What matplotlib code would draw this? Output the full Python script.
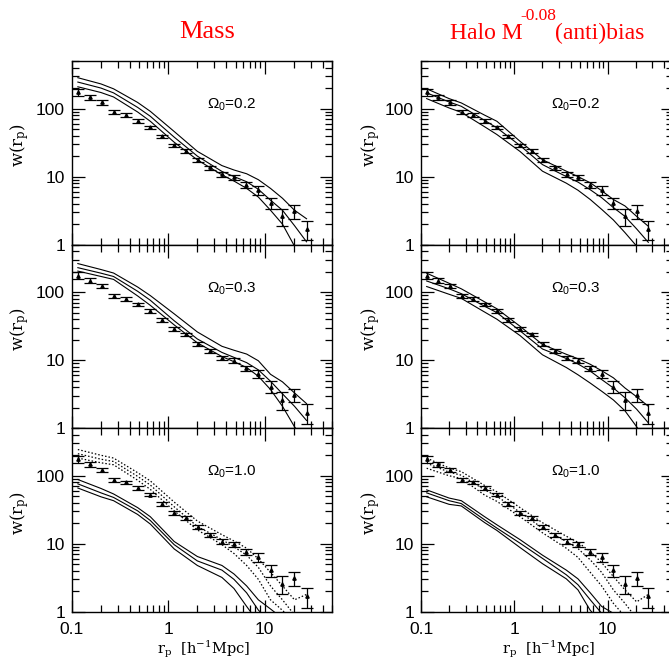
import numpy as np
import matplotlib
matplotlib.use("Agg")
import matplotlib.pyplot as plt
from matplotlib.ticker import LogLocator, NullFormatter, FixedLocator, FixedFormatter

# observed w(rp) points (same in every panel)
R_DATA = [0.115, 0.153, 0.204, 0.272, 0.363, 0.484, 0.645, 0.86, 1.15, 1.53,
          2.04, 2.72, 3.63, 4.84, 6.45, 8.6, 11.5, 15.3, 20.4, 27.2]
W_DATA = [175, 147, 123, 88, 80, 66, 53, 39, 28.7, 24,
          17.5, 13.6, 10.8, 9.8, 7.6, 6.3, 4.1, 2.6, 3.1, 1.7]
W_ERR = [20, 12, 9, 6, 5, 4, 3, 2.5, 1.8, 1.5,
         1.1, 0.9, 0.8, 0.8, 0.7, 0.9, 0.8, 0.75, 0.7, 0.55]

# model curves
R_MODEL = [0.115, 0.2, 0.27, 0.48, 0.65, 1.15, 2.0, 3.6, 4.8, 6.5,
           8.6, 11.5, 15.3, 20.4, 27.2]

MASS_02_HI = [284, 230, 195, 123, 91, 46, 23.5, 14.5, 12.5, 11, 9, 6.7, 4.8, 3.2, 2.4]
MASS_02_MID = [245, 200, 170, 104, 77, 38, 20, 11.9, 10, 8.4, 6.5, 4.5, 3.2, 1.9, 1.1]
MASS_02_LO = [209, 172, 148, 89, 65, 32, 17.6, 10.6, 8.6, 6.7, 5, 3.2, 2.0, 0.95, 0.5]

MASS_03_HI = [263, 215, 191, 119, 89, 48, 26, 16, 14, 12.3, 9.8, 6.2, 4.8, 3.3, 2.3]
MASS_03_MID = [229, 190, 170, 103, 76, 38, 20.5, 13, 11, 9.2, 7.2, 4.9, 3.2, 2.1, 1.3]
MASS_03_LO = [204, 170, 154, 88, 64, 33, 18, 11.3, 9.5, 7.8, 5.8, 3.7, 2.1, 1.05, 0.6]

MASS_10_HI = [88, 65, 54, 34, 25, 10.8, 6.5, 4.8, 3.6, 2.4, 1.5, 1.1, 0.8, 0.5, 0.3]
MASS_10_MID = [76, 56, 48, 30.5, 22, 9.7, 5.6, 4.1, 3.0, 1.9, 1.06, 0.7, 0.5, 0.3, 0.2]
MASS_10_LO = [66, 49, 43, 27, 19.5, 8.4, 4.8, 3.2, 2.2, 1.2, 0.7, 0.5, 0.3, 0.2, 0.1]
MASS_10_DOT_HI = [243, 200, 182, 111, 84, 41, 21.6, 13.6, 11, 8.6, 6, 3.8, 2.4, 1.5, 1.8]
MASS_10_DOT_MID = [211, 175, 162, 98, 73, 35, 18, 11.5, 9, 6.8, 4.5, 2.4, 1.5, 0.9, 0.6]
MASS_10_DOT_LO = [182, 155, 145, 86, 63, 30.5, 16, 9.7, 7.2, 4.8, 3, 1.5, 1.05, 0.7, 0.5]

HALO_02_HI = [195, 140, 121, 80, 65, 33, 17.7, 12, 10, 8.1, 6.2, 4.6, 3.7, 2.6, 1.86]
HALO_02_MID = [170, 125, 108, 67, 52, 28.6, 15, 10, 8.3, 6.4, 4.9, 3.5, 2.6, 1.7, 1.08]
HALO_02_LO = [140, 102, 88, 54, 41.5, 23.4, 12, 8, 6.3, 4.6, 3.3, 2.3, 1.5, 0.95, 0.6]

HALO_03_HI = [190, 135, 112, 72, 57, 31.5, 17, 12.2, 10.5, 8.7, 7, 5.5, 3.9, 2.9, 2.1]
HALO_03_MID = [146, 112, 95, 62, 50, 27, 14.6, 10.6, 8.8, 6.9, 5.2, 3.9, 2.8, 1.9, 1.2]
HALO_03_LO = [121, 93, 81, 51, 40, 23, 12, 7.8, 6.1, 4.6, 3.5, 2.6, 1.8, 1.05, 0.6]

HALO_10_HI = [62, 47, 43, 25, 19, 11.5, 6.8, 4.1, 3.05, 1.9, 1.2, 0.95, 0.6, 0.4, 0.3]
HALO_10_MID = [56, 43, 39, 22.5, 17, 10.2, 6.1, 3.5, 2.5, 1.5, 0.95, 0.7, 0.5, 0.3, 0.2]
HALO_10_LO = [49, 38, 36, 20.5, 15.7, 8.8, 5.1, 3.05, 2.1, 1.05, 0.7, 0.5, 0.3, 0.2, 0.1]
HALO_10_DOT_HI = [182, 130, 115, 72, 58, 34, 20.4, 12.9, 10.5, 7.7, 5.3, 3.3, 2.1, 1.4, 1.8]
HALO_10_DOT_MID = [153, 113, 102, 62, 50, 29, 17, 10.8, 8.5, 5.8, 3.8, 2.1, 1.33, 0.8, 0.5]
HALO_10_DOT_LO = [129, 100, 91, 52, 42, 25, 14.5, 8.6, 6.3, 3.8, 2.4, 1.33, 0.85, 0.5, 0.4]

OMEGA_LABELS = ["0.2", "0.3", "1.0"]

plt.rcParams["mathtext.fontset"] = "custom"
plt.rcParams["mathtext.rm"] = "Liberation Sans"
plt.rcParams["mathtext.it"] = "Liberation Sans"

panels = {
    (0, 0): ([MASS_02_HI, MASS_02_MID, MASS_02_LO], []),
    (1, 0): ([MASS_03_HI, MASS_03_MID, MASS_03_LO], []),
    (2, 0): ([MASS_10_HI, MASS_10_MID, MASS_10_LO],
             [MASS_10_DOT_HI, MASS_10_DOT_MID, MASS_10_DOT_LO]),
    (0, 1): ([HALO_02_HI, HALO_02_MID, HALO_02_LO], []),
    (1, 1): ([HALO_03_HI, HALO_03_MID, HALO_03_LO], []),
    (2, 1): ([HALO_10_HI, HALO_10_MID, HALO_10_LO],
             [HALO_10_DOT_HI, HALO_10_DOT_MID, HALO_10_DOT_LO]),
}

W, H = 669, 662
fig = plt.figure(figsize=(W / 100, H / 100), dpi=100)

col_left = [72, 421]
col_width = [260, 252]
row_top = [61, 244.6, 428.2]
row_h = 183.6

for (row, col), (solid, dotted) in panels.items():
    x0 = col_left[col] / W
    y0 = 1 - (row_top[row] + row_h) / H
    ax = fig.add_axes([x0, y0, col_width[col] / W, row_h / H])
    ax.set_xscale("log")
    ax.set_yscale("log")
    ax.set_xlim(0.1, 50)
    ax.set_ylim(1, 500)

    for ys in solid:
        ax.plot(R_MODEL, ys, color="black", lw=0.8)
    for ys in dotted:
        ax.plot(R_MODEL, ys, color="black", lw=0.9, ls=(0, (1.2, 1.6)))

    ax.errorbar(R_DATA, W_DATA, yerr=W_ERR, fmt="^", color="black",
                ms=2.4, elinewidth=0.9, capsize=4.5, capthick=0.9)

    ax.tick_params(which="both", direction="in", top=True, right=True,
                   labelsize=12.5, width=0.9)
    ax.tick_params(which="major", length=9)
    ax.tick_params(which="minor", length=5)
    ax.tick_params(axis="x", which="major", pad=7)
    ax.tick_params(axis="y", which="major", pad=5)
    for sp in ax.spines.values():
        sp.set_linewidth(1.0)

    ax.xaxis.set_major_locator(FixedLocator([0.1, 1, 10]))
    ax.xaxis.set_minor_locator(LogLocator(base=10, subs=np.arange(2, 10), numticks=20))
    ax.yaxis.set_major_locator(FixedLocator([1, 10, 100]))
    ax.yaxis.set_minor_locator(LogLocator(base=10, subs=np.arange(2, 10), numticks=20))
    ax.yaxis.set_major_formatter(FixedFormatter(["1", "10", "100"]))
    ax.yaxis.set_minor_formatter(NullFormatter())
    ax.xaxis.set_minor_formatter(NullFormatter())
    for lab in ax.get_yticklabels():
        lab.set_fontfamily("Liberation Sans")

    if row == 2:
        ax.xaxis.set_major_formatter(FixedFormatter(["0.1", "1", "10"]))
        for lab in ax.get_xticklabels():
            lab.set_fontfamily("Liberation Sans")
        cx = (col_left[col] + 0.5 * col_width[col] + 2) / W
        fig.text(cx, 1 - 649 / H,
                 r"r$_{\mathregular{p}}$  [h$^{\mathregular{-1}}$Mpc]",
                 family="DejaVu Serif", fontsize=10.5, ha="center", va="center")
    else:
        ax.xaxis.set_major_formatter(NullFormatter())

    ax.text(-0.2, 0.54, r"w(r$_{\mathregular{p}}$)", transform=ax.transAxes,
            rotation=90, ha="center", va="center", family="DejaVu Serif",
            fontsize=12)
    ax.text(0.615, 0.76, r"$\mathrm{\Omega_0}$=" + OMEGA_LABELS[row],
            transform=ax.transAxes, ha="center", va="center",
            family="Liberation Sans", fontsize=11)

# column titles
red = "#ff0000"
fig.text(207 / W, 1 - 38 / H, "Mass", color=red, family="Liberation Serif",
         fontsize=19, ha="center", va="baseline")
fig.text(523 / W, 1 - 39 / H, "Halo M", color=red, family="Liberation Serif",
         fontsize=17, ha="right", va="baseline")
fig.text(520 / W, 1 - 20 / H, "-0.08", color=red, family="Liberation Serif",
         fontsize=12.5, ha="left", va="baseline")
fig.text(555 / W, 1 - 39 / H, "(anti)bias", color=red, family="Liberation Serif",
         fontsize=17, ha="left", va="baseline")

fig.savefig("out.png", dpi=100)
